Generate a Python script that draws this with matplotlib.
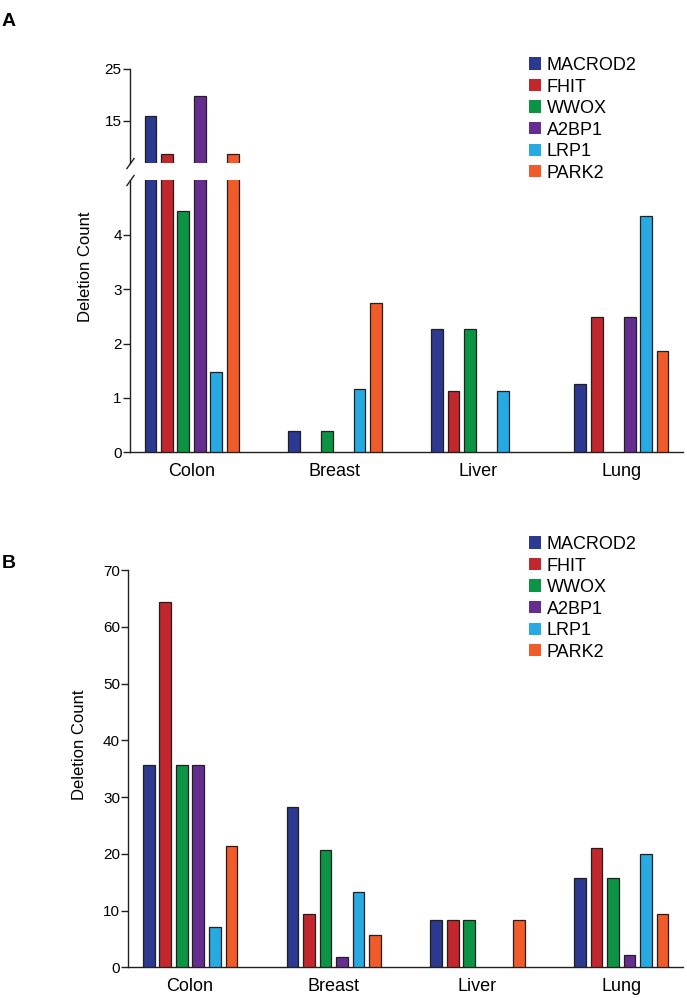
import numpy as np
import matplotlib
matplotlib.use("Agg")
import matplotlib.pyplot as plt
from matplotlib.patches import Patch

plt.rcParams['font.family'] = ['Liberation Sans', 'DejaVu Sans']

# datos
tejidos = ["Colon", "Breast", "Liver", "Lung"]
genes = ["MACROD2", "FHIT", "WWOX", "A2BP1", "LRP1", "PARK2"]
colores = ["#2B3990", "#C1272D", "#0B9444", "#662D91", "#27AAE1", "#F15A29"]

# panel A (conteos por gen, orden de tejidos)
a_macrod2 = [16.0, 0.4, 2.27, 1.26]
a_fhit = [8.7, 0, 1.13, 2.48]
a_wwox = [4.44, 0.4, 2.27, 0]
a_a2bp1 = [19.8, 0, 0, 2.48]
a_lrp1 = [1.48, 1.17, 1.13, 4.35]
a_park2 = [8.7, 2.74, 0, 1.86]

# panel B
b_macrod2 = [35.7, 28.3, 8.3, 15.8]
b_fhit = [64.3, 9.4, 8.3, 21.0]
b_wwox = [35.7, 20.7, 8.3, 15.8]
b_a2bp1 = [35.7, 1.8, 0, 2.1]
b_lrp1 = [7.1, 13.2, 0, 20.0]
b_park2 = [21.4, 5.7, 8.3, 9.4]

datos_a = [a_macrod2, a_fhit, a_wwox, a_a2bp1, a_lrp1, a_park2]
datos_b = [b_macrod2, b_fhit, b_wwox, b_a2bp1, b_lrp1, b_park2]

W, H = 687, 998
fig = plt.figure(figsize=(W / 100, H / 100), dpi=100)


def caja(x0, y0, x1, y1):
    # pixeles -> fraccion de figura
    return [x0 / W, 1 - y1 / H, (x1 - x0) / W, (y1 - y0) / H]


paso = 0.115
ancho = 0.082
borde = "#231F20"
x = np.arange(len(tejidos))


def barras(ax, datos):
    for j, vals in enumerate(datos):
        vals = np.array(vals, dtype=float)
        m = vals > 0
        ax.bar(x[m] + (j - 2.5) * paso, vals[m], width=ancho, color=colores[j],
               edgecolor=borde, linewidth=0.9, zorder=3)


def estilo(ax):
    for s in ["top", "right"]:
        ax.spines[s].set_visible(False)
    for s in ["left", "bottom"]:
        ax.spines[s].set_linewidth(1.0)
        ax.spines[s].set_color(borde)
    ax.tick_params(axis="y", length=5, width=1.0, color=borde, labelsize=11, pad=1)
    ax.tick_params(axis="x", length=0, labelsize=13, pad=8)
    ax.set_xlim(-0.43, 3.43)


# panel A con eje roto
axA1 = fig.add_axes(caja(130, 69, 683, 162.6))
axA2 = fig.add_axes(caja(130, 180.3, 683, 452.3))
barras(axA1, datos_a)
barras(axA2, datos_a)
estilo(axA1)
estilo(axA2)
axA1.set_ylim(7, 25)
axA1.set_yticks([15, 25])
axA1.spines["bottom"].set_visible(False)
axA1.set_xticks([])
axA2.set_ylim(0, 5)
axA2.set_yticks([0, 1, 2, 3, 4])
axA2.set_xticks(x)
axA2.set_xticklabels(tejidos)

# marcas de corte
kw = dict(marker=[(-1, -1.4), (1, 1.4)], markersize=8, linestyle="none",
          color=borde, mec=borde, mew=1, clip_on=False)
axA1.plot([0], [0], transform=axA1.transAxes, **kw)
axA2.plot([0], [1], transform=axA2.transAxes, **kw)

# panel B
axB = fig.add_axes(caja(128.3, 570, 683, 967.3))
barras(axB, datos_b)
estilo(axB)
axB.set_ylim(0, 70)
axB.set_yticks(range(0, 71, 10))
axB.set_xticks(x)
axB.set_xticklabels(tejidos)

# etiquetas
fig.text(86 / W, 1 - 267 / H, "Deletion Count", rotation=90, ha="center", va="center", fontsize=12)
fig.text(79 / W, 1 - 745 / H, "Deletion Count", rotation=90, ha="center", va="center", fontsize=12)
fig.text(2 / W, 1 - 21 / H, "A", fontsize=14, fontweight="bold", ha="left", va="center")
fig.text(2 / W, 1 - 563 / H, "B", fontsize=14, fontweight="bold", ha="left", va="center")

# leyendas
manijas = [Patch(facecolor=c, edgecolor="none") for c in colores]
for ytop in [57, 536]:
    fig.legend(manijas, genes, loc="upper left", bbox_to_anchor=(529 / W, 1 - ytop / H),
               frameon=False, fontsize=13, handlelength=0.68, handleheight=0.68,
               handletextpad=0.3, labelspacing=0.25, borderpad=0, borderaxespad=0)

fig.savefig("out.png", dpi=100)
